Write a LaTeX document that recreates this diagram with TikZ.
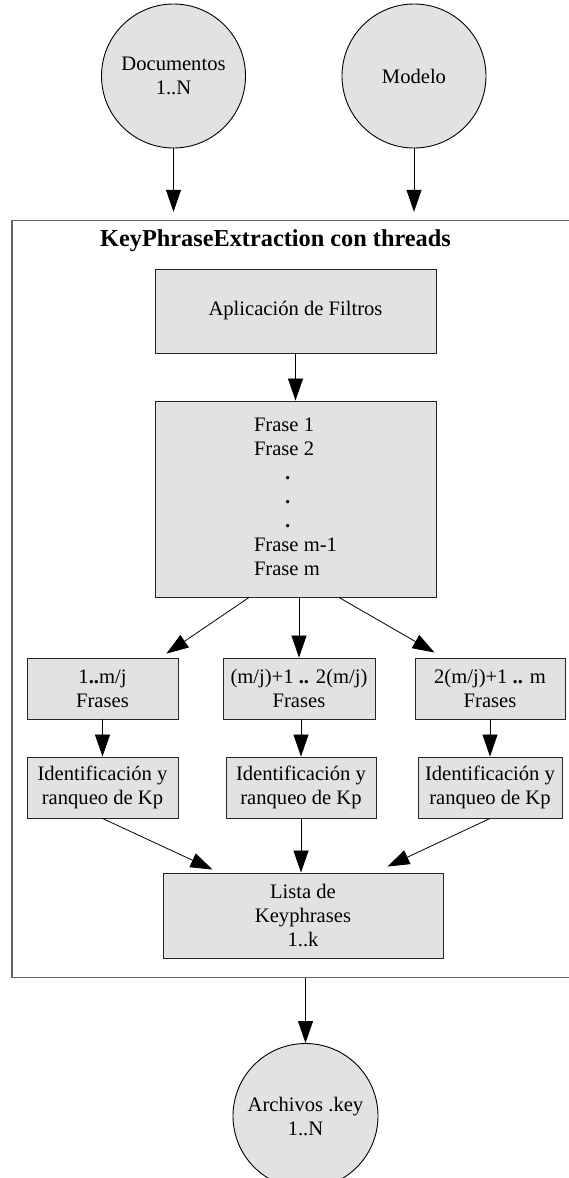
\documentclass[tikz,border=0pt]{standalone}
\usepackage{fontspec}
\setmainfont{Liberation Serif}
\usetikzlibrary{arrows.meta,calc}

\definecolor{marble}{RGB}{226,226,226}
\definecolor{framegray}{RGB}{100,100,100}

\begin{document}
\begin{tikzpicture}[x=1pt,y=-1pt,
  txt/.style={font=\fontsize{20.6}{24}\selectfont},
  box/.style={txt, rectangle, draw=black!85, line width=0.9pt, fill=marble,
              inner sep=0pt, align=center},
  orb/.style={txt, circle, draw=black, line width=0.9pt, fill=marble,
              inner sep=0pt, align=center, minimum size=144pt},
  link/.style={-{Triangle[length=22pt,width=15pt]}, line width=0.8pt, black}
]
\useasboundingbox (0,0) rectangle (569,1178);

% inputs
\node[orb] (docs) at (173.5,76) {Documentos\\1..N};
\node[orb] (modelo) at (414,76) {Modelo};

% enclosing process frame (its right side runs past the page edge)
\node[rectangle, draw=framegray, line width=1.4pt, minimum width=600pt,
      minimum height=757pt, inner sep=0pt] (frame) at (312,599) {};
\node[font=\fontsize{24.3}{28}\selectfont\bfseries] (title) at (275.5,241)
  {KeyPhraseExtraction con threads};

% main pipeline
\node[box, minimum width=281pt, minimum height=84pt] (filtros) at (295.5,311)
  {Aplicación de Filtros};
\node[box, minimum width=281pt, minimum height=196pt] (frases) at (295.5,499)
  {\begin{tabular}{@{}l@{}}
   Frase 1\\ Frase 2\\
   \hspace*{31pt}\textbf{.}\\ \hspace*{31pt}\textbf{.}\\ \hspace*{31pt}\textbf{.}\\
   Frase m-1\\ Frase m
   \end{tabular}};

% split into thread chunks
\node[box, minimum width=151pt, minimum height=61pt] (fA) at (102.5,688.5)
  {1\textbf{..}m/j\\Frases};
\node[box, minimum width=152pt, minimum height=61pt] (fB) at (299,688.5)
  {(m/j)+1 \textbf{..} 2(m/j)\\Frases};
\node[box, minimum width=150pt, minimum height=61pt] (fC) at (490,688.5)
  {2(m/j)+1 \textbf{..} m\\Frases};

\node[box, minimum width=151pt, minimum height=61pt] (iA) at (102.5,787.5)
  {Identificación y\\ranqueo de Kp};
\node[box, minimum width=150pt, minimum height=61pt] (iB) at (301,787.5)
  {Identificación y\\ranqueo de Kp};
\node[box, minimum width=144pt, minimum height=61pt] (iC) at (490,787.5)
  {Identificación y\\ranqueo de Kp};

\node[box, minimum width=280pt, minimum height=85pt] (lista) at (303,915.5)
  {Lista de\\Keyphrases\\1..k};

% output
\node[orb, minimum size=145pt] (arch) at (305.5,1116) {Archivos .key\\1..N};

% connectors
\draw[link, shorten >=8pt] (docs.south) -- (docs.south |- frame.north);
\draw[link, shorten >=8pt] (modelo.south) -- (modelo.south |- frame.north);
\draw[link] (filtros.south) -- (frases.north);
\draw[link] ($(frases.south)+(-46.5,0)$) -- ($(fA.north east)+(-12,-4)$);
\draw[link] (frases.south -| fB.north) -- (fB.north);
\draw[link] ($(frases.south)+(43.5,0)$) -- ($(fC.north west)+(20,-5)$);
\draw[link] (fA.south) -- (iA.north);
\draw[link] (fB.south -| iB.north) -- (iB.north);
\draw[link] (fC.south) -- (iC.north);
\draw[link] (iA.south) -- ($(lista.north west)+(50,-3)$);
\draw[link] (iB.south) -- (iB.south |- lista.north);
\draw[link] (iC.south) -- ($(lista.north east)+(-56,-6)$);
\draw[link] (arch.north |- frame.south) -- (arch.north);
\end{tikzpicture}
\end{document}
